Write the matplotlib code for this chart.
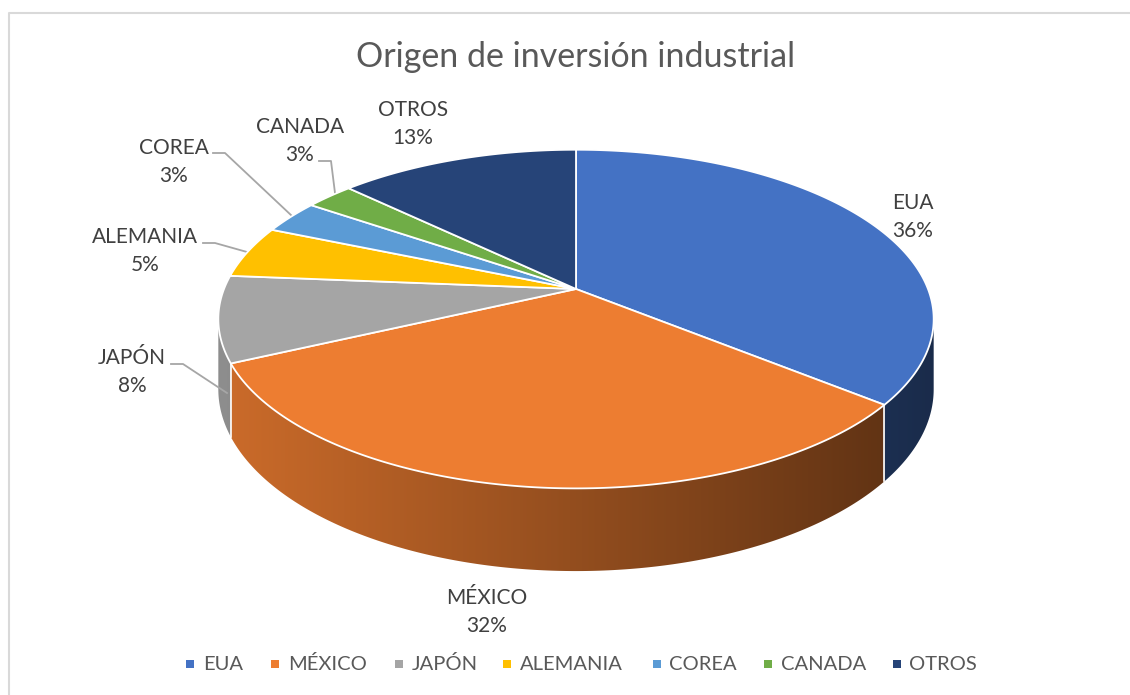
import numpy as np
import matplotlib.pyplot as plt
from matplotlib.patches import Polygon
from matplotlib.colors import to_rgb

# datos
paises = ["EUA", "MÉXICO", "JAPÓN", "ALEMANIA", "COREA", "CANADA", "OTROS"]
valores = [35.8, 32.3, 8.2, 5.0, 3.2, 2.6, 12.9]
colores = ["#4472C4", "#ED7D31", "#A5A5A5", "#FFC000", "#5B9BD5", "#70AD47", "#264478"]
titulo = "Origen de inversión industrial"

plt.rcParams['font.family'] = ['Lato', 'DejaVu Sans']

W, H = 1130, 695
fig = plt.figure(figsize=(W / 100, H / 100), dpi=100)
ax = fig.add_axes([0, 0, 1, 1])
ax.set_xlim(0, W)
ax.set_ylim(H, 0)
ax.axis('off')

# borde del area del grafico
ax.plot([8.5, 8.5, W + 5], [H + 5, 12.5, 12.5], color="#d9d9d9", lw=1.5)

# geometria del pastel 3D (en pixeles)
cx, cy = 576, 289
rx, ry = 352, 164
k = 0.1775      # perspectiva
depth = 68


def punto(ang, caida=0.0):
    t = np.radians(ang)
    u, v = np.sin(t), -np.cos(t)
    s = 1.0 / (1.0 - k * v)
    return cx + rx * u * s, cy + (ry * v + caida) * s


total = sum(valores)
bordes = np.concatenate([[0], np.cumsum(valores)]) / total * 360
vis_ini = np.degrees(np.arccos(-k))
vis_fin = 360 - vis_ini

# paredes laterales con degradado (imagen recortada por el contorno)
for i, c in enumerate(colores):
    a0 = max(bordes[i], vis_ini)
    a1 = min(bordes[i + 1], vis_fin)
    if a1 <= a0:
        continue
    angs = np.linspace(a0, a1, 200)
    arriba = [punto(a) for a in angs]
    abajo = [punto(a, depth) for a in angs[::-1]]
    pts = np.array(arriba + abajo)
    x0, x1 = pts[:, 0].min() - 2, pts[:, 0].max() + 2
    y0, y1 = pts[:, 1].min() - 2, pts[:, 1].max() + 2
    xs = np.linspace(x0, x1, 300)
    u = np.clip((xs - cx) / (rx * 1.016), -1, 1)
    f = 0.62 - 0.24 * u
    img = np.clip(np.array(to_rgb(c))[None, None, :] * f[None, :, None], 0, 1)
    forma = Polygon(pts, closed=True, facecolor="none", edgecolor="none")
    ax.add_patch(forma)
    im = ax.imshow(img, extent=(x0, x1, y1, y0), aspect="auto", interpolation="bilinear", zorder=1)
    im.set_clip_path(forma)

for b in bordes[1:-1]:
    if vis_ini < b < vis_fin:
        xa, ya = punto(b)
        xb, yb = punto(b, depth)
        ax.plot([xa, xb], [ya, yb], color="white", lw=1.2, zorder=2)

ax.set_xlim(0, W)
ax.set_ylim(H, 0)

# caras superiores
for i, c in enumerate(colores):
    angs = np.linspace(bordes[i], bordes[i + 1], max(int((bordes[i + 1] - bordes[i]) * 2), 3))
    pts = [(cx, cy)] + [punto(a) for a in angs]
    ax.add_patch(Polygon(pts, closed=True, facecolor=c, edgecolor="white", lw=1.3,
                         joinstyle="round", zorder=3))

# titulo
ax.text(576, 57, titulo, ha="center", va="center", fontsize=24.5, color="#595959")

# etiquetas de datos
pos_etiquetas = [(913, 217), (487, 612), (132, 372), (145, 251), (174, 162), (300, 141), (413, 124)]
for nombre, val, (x, y) in zip(paises, valores, pos_etiquetas):
    pct = round(val / total * 100)
    ax.text(x, y, f"{nombre}\n{pct}%", ha="center", va="center", fontsize=15,
            color="#404040", linespacing=1.45, multialignment="center")

# lineas guia
guias = [
    [(171, 364), (183, 364), (227, 393)],
    [(203, 243), (215, 243), (247, 252)],
    [(213, 153), (225, 153), (292, 216)],
    [(319, 161), (331, 161), (335, 193)],
]
for g in guias:
    xs, ys = zip(*g)
    ax.plot(xs, ys, color="#a6a6a6", lw=1.3)

# leyenda
ley_x = [186.7, 271.7, 395, 503, 653, 764, 893]
for nombre, c, x in zip(paises, colores, ley_x):
    ax.scatter([x + 3.5], [664], marker="s", s=26, color=c, linewidths=0)
    ax.text(x + 16.5, 664, nombre, ha="left", va="center", fontsize=14.5, color="#595959")

fig.savefig("out.png", dpi=100)
